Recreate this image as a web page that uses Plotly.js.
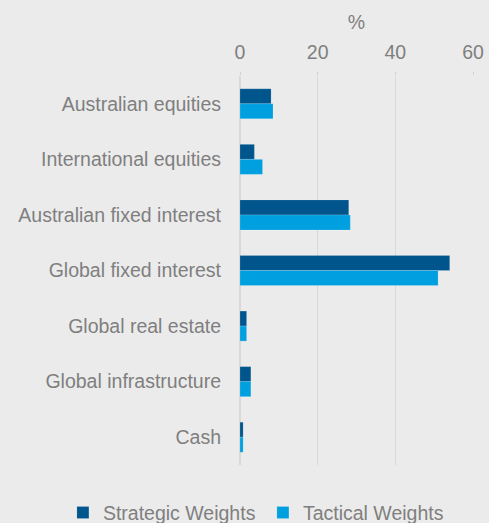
<!DOCTYPE html>
<html>
<head>
<meta charset="utf-8">
<script src="https://cdn.plot.ly/plotly-3.0.1.min.js"></script>
<style>html,body{margin:0;padding:0;background:#ebebeb;}#chart{width:489px;height:523px;}</style>
</head>
<body>
<div id="chart"></div>
<script>
const categories = ["Australian equities","International equities","Australian fixed interest","Global fixed interest","Global real estate","Global infrastructure","Cash"];
const strategicWeights = [8, 3.7, 28, 54, 1.7, 2.8, 0.8];
const tacticalWeights = [8.5, 5.8, 28.4, 51, 1.7, 2.8, 0.8];
const seriesNames = ["Strategic Weights","Tactical Weights"];
const xTicks = [0, 20, 40, 60];

const grey = "#7f7f7f";
const fontFam = "Liberation Sans, Arial, sans-serif";
const traces = [
  {type:"bar", orientation:"h", name:seriesNames[0], y:categories, x:strategicWeights,
   marker:{color:"#00558c", line:{color:"rgba(255,255,255,0.3)", width:0.5}}},
  {type:"bar", orientation:"h", name:seriesNames[1], y:categories, x:tacticalWeights,
   marker:{color:"#00a0e0", line:{color:"rgba(255,255,255,0.3)", width:0.5}}}
];
const layout = {
  width:489, height:523,
  paper_bgcolor:"#ebebeb", plot_bgcolor:"#ebebeb",
  font:{family:fontFam, size:19.5, color:grey},
  margin:{l:240, r:16, t:76, b:58, autoexpand:false},
  barmode:"group", bargap:0.46, bargroupgap:0,
  xaxis:{side:"top", range:[0,60], tickvals:xTicks, ticktext:xTicks.map(String),
    showgrid:true, gridcolor:"#d9d9d9", gridwidth:1.5, zeroline:true, zerolinecolor:"#d9d9d9", zerolinewidth:1.5,
    ticks:"outside", ticklen:3, tickcolor:"#d0d0d0", showline:false, fixedrange:true,
    ticklabelstandoff:5,
    tickfont:{size:19.5, color:grey},
    title:{text:"%", font:{size:19.5, color:grey}, standoff:6}},
  yaxis:{autorange:"reversed", showgrid:false, zeroline:false, ticks:"", ticklabelstandoff:18,
    tickfont:{size:19.5, color:grey}},
  legend:{orientation:"h", xref:"paper", yref:"paper", x:-0.76, xanchor:"left", y:-0.123, yanchor:"middle",
    font:{size:19.5, color:grey}, itemwidth:30, entrywidth:155, entrywidthmode:"pixels",
    traceorder:"normal", bgcolor:"rgba(0,0,0,0)"},
  showlegend:true
};
Plotly.newPlot("chart", traces, layout, {displayModeBar:false, staticPlot:true});
</script>
</body>
</html>
